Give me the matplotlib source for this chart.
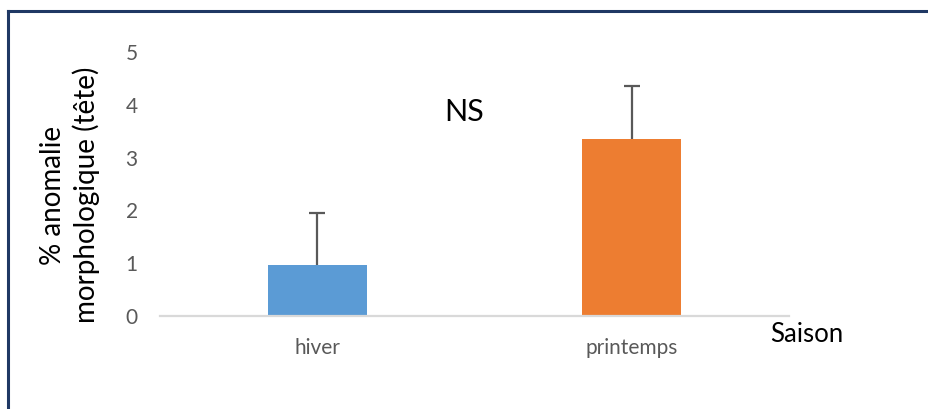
import matplotlib
matplotlib.use("Agg")
import matplotlib.pyplot as plt
from matplotlib.lines import Line2D

# data
saisons = ["hiver", "printemps"]
moyennes = [0.97, 3.36]
erreurs = [0.99, 1.0]
couleurs = ["#5B9BD5", "#ED7D31"]
yticks = [0, 1, 2, 3, 4, 5]

plt.rcParams["font.family"] = ["Lato", "DejaVu Sans"]

W, H = 929, 409
fig = plt.figure(figsize=(W / 100, H / 100), dpi=100)
fig.patch.set_facecolor("white")

ax = fig.add_axes([160 / W, 1 - 316 / H, 629 / W, 264 / H])
x = list(range(len(saisons)))
ax.bar(x, moyennes, width=0.315, color=couleurs, zorder=2)

# upward-only error bars
_, caps, _ = ax.errorbar(x, moyennes, yerr=[[0] * len(x), erreurs], fmt="none",
                         ecolor="#595959", elinewidth=1.6, capsize=6,
                         capthick=1.6, zorder=3)
for cap in caps:
    if list(cap.get_ydata()) == list(moyennes):
        cap.set_visible(False)

ax.set_xlim(-0.5, 1.5)
ax.set_ylim(0, 5)
ax.set_yticks(yticks)
ax.set_xticks(x)
ax.set_xticklabels(saisons)
for s in ["top", "right", "left"]:
    ax.spines[s].set_visible(False)
ax.spines["bottom"].set_color("#D9D9D9")
ax.spines["bottom"].set_linewidth(1.6)
ax.tick_params(axis="both", length=0, colors="#595959", labelsize=15)
ax.tick_params(axis="y", pad=16)
ax.tick_params(axis="x", pad=16)

fig.text(70 / W, 1 - 195 / H, "% anomalie\nmorphologique (tête)",
         rotation=90, ha="center", va="center", multialignment="center",
         fontsize=20, color="black", linespacing=1.25)
fig.text(464 / W, 1 - 112 / H, "NS", ha="center", va="center",
         fontsize=22, color="black")
fig.text(807 / W, 1 - 334 / H, "Saison", ha="center", va="center",
         fontsize=18.5, color="black")

# frame around the chart (top and left edges)
border = "#1F3864"
fig.add_artist(Line2D([8 / W, 1.0], [1 - 11 / H, 1 - 11 / H],
                      color=border, linewidth=2.2, solid_capstyle="projecting"))
fig.add_artist(Line2D([8 / W, 8 / W], [1 - 11 / H, 0.0],
                      color=border, linewidth=2.2, solid_capstyle="projecting"))

fig.savefig("out.png", dpi=100)
